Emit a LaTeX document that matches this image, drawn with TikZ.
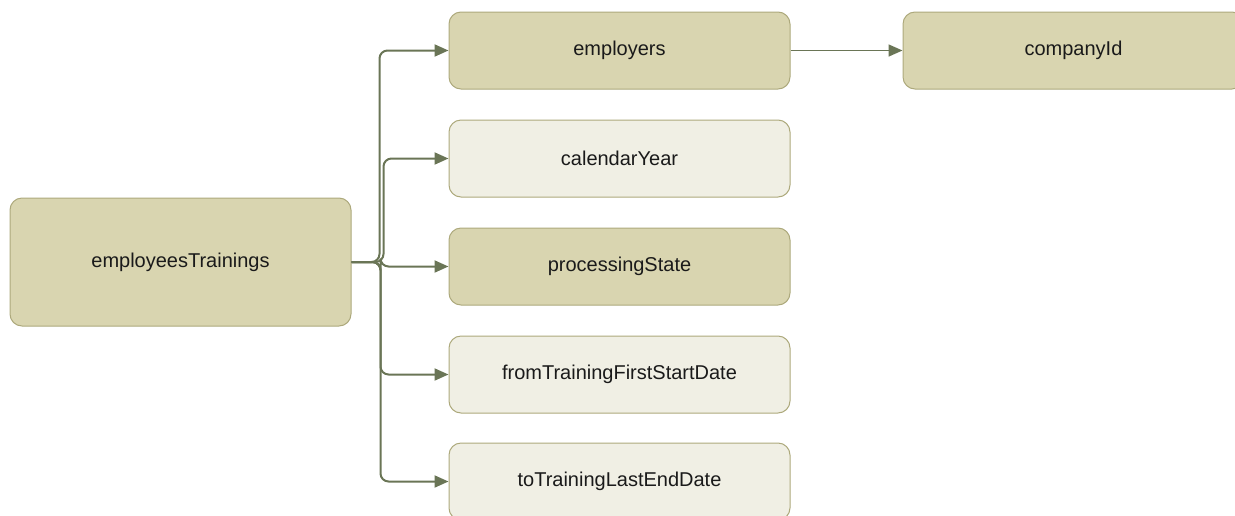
\documentclass[tikz,border=0pt]{standalone}
\usepackage{fontspec}
\setmainfont{Liberation Sans}
\usetikzlibrary{arrows.meta}
\definecolor{darkfill}{HTML}{D9D5B0}
\definecolor{lightfill}{HTML}{F0EFE4}
\definecolor{boxline}{HTML}{ADA97C}
\definecolor{connline}{HTML}{6A7556}
\definecolor{txt}{HTML}{1A1A1A}
\tikzset{
  box/.style={rectangle, rounded corners=12pt, draw=boxline, line width=1pt,
    minimum width=341pt, minimum height=77pt, inner sep=0pt,
    font=\fontsize{20}{24}\selectfont, text=txt},
  darkbox/.style={box, fill=darkfill},
  lightbox/.style={box, fill=lightfill},
  conn/.style={draw=connline, line width=2pt, rounded corners=8pt,
    -{Triangle[length=14pt,width=12pt]}},
  conn2/.style={draw=connline, line width=1.6pt,
    -{Triangle[length=14pt,width=12pt]}}
}
\begin{document}
\begin{tikzpicture}[x=1pt,y=-1pt]
\useasboundingbox (0,0) rectangle (1235,515);
\clip (0,0) rectangle (1235,515);
\node[darkbox, minimum height=128pt] (root) at (180.5,262) {employeesTrainings};
\node[darkbox] (emp) at (619.5,50.5) {employers};
\node[lightbox] (cal) at (619.5,158.5) {calendarYear};
\node[darkbox] (proc) at (619.5,266.5) {processingState};
\node[lightbox] (from) at (619.5,374.5) {fromTrainingFirstStartDate};
\node[lightbox] (to) at (619.5,481.5) {toTrainingLastEndDate};
\node[darkbox] (comp) at (1073.5,50.5) {companyId};
\draw[conn] (root.east) -- ++(28,0) |- (emp.west);
\draw[conn] (root.east) -- ++(32,0) |- (cal.west);
\draw[conn] (root.east) -- ++(29,0) |- (proc.west);
\draw[conn] (root.east) -- ++(29,0) |- (from.west);
\draw[conn] (root.east) -- ++(29,0) |- (to.west);
\draw[conn2] (emp.east) -- (comp.west);
\end{tikzpicture}
\end{document}
